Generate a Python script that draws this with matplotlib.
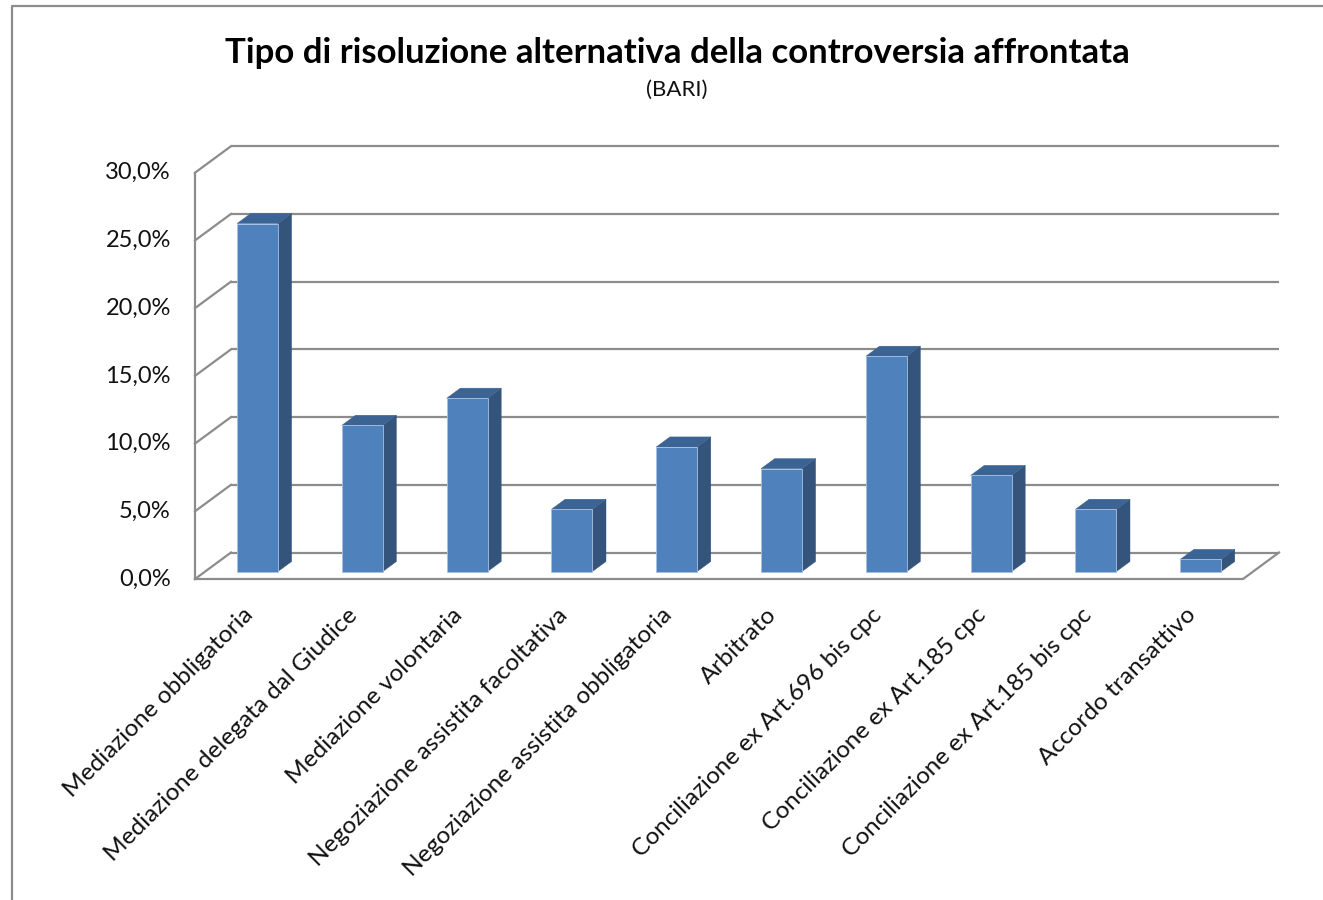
import matplotlib.pyplot as plt
from matplotlib.patches import Polygon
from matplotlib.lines import Line2D

# data (percent)
categories = [
    "Mediazione obbligatoria",
    "Mediazione delegata dal Giudice",
    "Mediazione volontaria",
    "Negoziazione assistita facoltativa",
    "Negoziazione assistita obbligatoria",
    "Arbitrato",
    "Conciliazione ex Art.696 bis cpc",
    "Conciliazione ex Art.185 cpc",
    "Conciliazione ex Art.185 bis cpc",
    "Accordo transattivo",
]
values = [25.7, 10.8, 12.8, 4.6, 9.2, 7.6, 15.9, 7.1, 4.6, 0.9]
y_ticks = [0, 5, 10, 15, 20, 25, 30]
y_tick_labels = ["0,0%", "5,0%", "10,0%", "15,0%", "20,0%", "25,0%", "30,0%"]

title = "Tipo di risoluzione alternativa della controversia affrontata"
subtitle = "(BARI)"

plt.rcParams['font.family'] = ['Lato', 'DejaVu Sans']

W, H = 1323, 900
fig = plt.figure(figsize=(W / 100, H / 100), dpi=100)

# front plane of the 3d box, in pixels
x0_px, x1_px, y0_px, y1_px = 195, 1243, 579, 172.7
ax = fig.add_axes([x0_px / W, 1 - y0_px / H, (x1_px - x0_px) / W, (y0_px - y1_px) / H])
n = len(categories)
ax.set_xlim(0, n)
ax.set_ylim(0, 30)
ax.axis('off')

# oblique depth vector (front -> back wall) in data units
ddx = 36 / (x1_px - x0_px) * n
ddy = 26.5 / (y0_px - y1_px) * 30

grid_c = '#8c8c8c'
grid_lw = 1.6

# back wall and side wall gridlines
for t in y_ticks:
    ax.plot([ddx, n + ddx], [t + ddy, t + ddy], color=grid_c, lw=grid_lw, clip_on=False, zorder=1,
            solid_capstyle='butt')
    ax.plot([0, ddx], [t, t + ddy], color=grid_c, lw=grid_lw, clip_on=False, zorder=1)
# front left edge and floor
ax.plot([0, 0], [0, 30], color=grid_c, lw=grid_lw, clip_on=False, zorder=1)
ax.plot([0, n, n + ddx], [0, 0, ddy], color=grid_c, lw=grid_lw, clip_on=False, zorder=1)

# bars: front face via ax.bar, side and top faces as polygons
bw = 0.39
f0 = 0.28
fd = 0.38
base = f0 * ddy
front_c = '#4f81bd'
side_c = '#34547c'
top_c = '#3b6394'
for i, v in enumerate(values):
    xc = i + 0.5 + f0 * ddx
    ax.bar(xc, v, width=bw, bottom=base, color=front_c, edgecolor='#a9c1e0', linewidth=0.6,
           zorder=3, clip_on=False)
    xl, xr = xc - bw / 2, xc + bw / 2
    top = base + v
    ex, ey = fd * ddx, fd * ddy
    ax.add_patch(Polygon([(xr, base), (xr, top), (xr + ex, top + ey), (xr + ex, base + ey)],
                         closed=True, facecolor=side_c, edgecolor=side_c, lw=0.3, zorder=2, clip_on=False))
    ax.add_patch(Polygon([(xl, top), (xr, top), (xr + ex, top + ey), (xl + ex, top + ey)],
                         closed=True, facecolor=top_c, edgecolor=top_c, lw=0.3, zorder=2, clip_on=False))

# y tick labels
for t, lab in zip(y_ticks, y_tick_labels):
    ax.text(-0.23, t, lab, ha='right', va='center', fontsize=17, color='#111111')

# category labels
for i, lab in enumerate(categories):
    ax.text(i + 0.52, -2.4, lab, rotation=45, ha='right', va='center', rotation_mode='anchor',
            fontsize=17.6, color='#111111')

fig.text(677 / W, 1 - 62.7 / H, title, ha='center', va='baseline', fontsize=25, fontweight='bold',
         color='#000000')
fig.text(677 / W, 1 - 96 / H, subtitle, ha='center', va='baseline', fontsize=16, color='#111111')

# chart border (only left and top edges are inside the picture)
fig.add_artist(Line2D([12 / W, 12 / W, 1.0], [0.0, 1 - 6 / H, 1 - 6 / H], transform=fig.transFigure,
                      color='#8c8c8c', lw=1.6))

fig.savefig('out.png', dpi=100)
